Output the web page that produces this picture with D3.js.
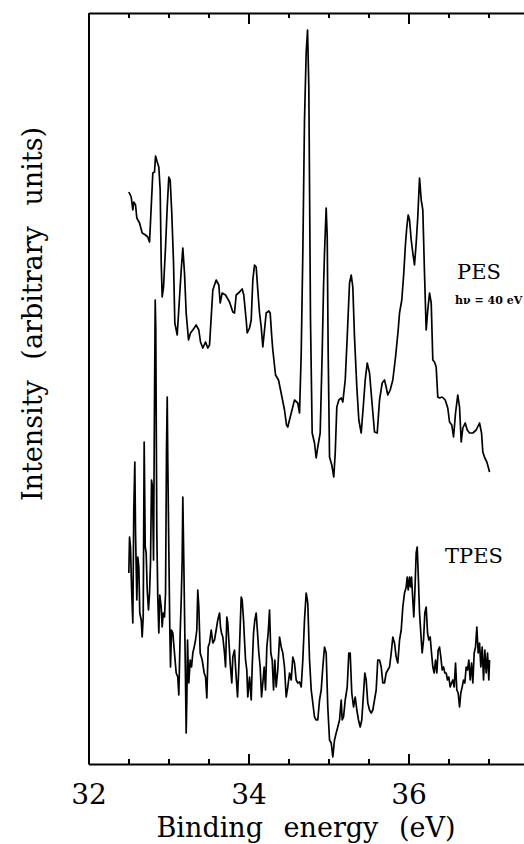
<!DOCTYPE html>
<html>
<head>
<meta charset="utf-8">
<script src="https://cdn.jsdelivr.net/npm/d3@7/dist/d3.min.js"></script>
<style>
  body { margin: 0; background: #fff; }
  svg { display: block; }
  .axis path, .axis line { stroke: #000; stroke-width: 2px; }
  .axis text { font-family: "DejaVu Serif", serif; fill: #000; }
</style>
</head>
<body>
<script>
// data: binding energy (eV) and intensity (arbitrary units)
var pesEnergy = [32.504,32.534,32.554,32.566,32.588,32.604,32.638,32.671,32.713,32.741,32.763,32.784,32.804,32.825,32.838,32.859,32.879,32.896,32.909,32.921,
  32.938,32.963,32.984,33.004,33.021,33.041,33.063,33.079,33.109,33.138,33.159,33.179,33.200,33.221,33.250,33.275,33.304,33.346,33.379,33.400,
  33.429,33.463,33.491,33.513,33.554,33.596,33.629,33.646,33.671,33.713,33.763,33.804,33.825,33.846,33.888,33.921,33.941,33.971,33.984,34.013,
  34.034,34.054,34.075,34.096,34.116,34.138,34.159,34.179,34.221,34.254,34.271,34.291,34.304,34.338,34.375,34.413,34.450,34.475,34.491,34.534,
  34.575,34.616,34.638,34.659,34.679,34.700,34.721,34.738,34.754,34.763,34.775,34.796,34.825,34.846,34.866,34.896,34.921,34.938,34.950,34.971,
  34.984,34.996,35.013,35.041,35.066,35.084,35.104,35.129,35.159,35.179,35.209,35.234,35.263,35.284,35.304,35.325,35.354,35.379,35.409,35.438,
  35.459,35.484,35.513,35.541,35.575,35.609,35.638,35.671,35.700,35.721,35.741,35.771,35.804,35.838,35.871,35.888,35.916,35.941,35.963,35.979,
  35.996,36.013,36.034,36.054,36.075,36.096,36.116,36.138,36.159,36.179,36.200,36.221,36.241,36.263,36.284,36.304,36.325,36.346,36.366,36.388,
  36.421,36.459,36.491,36.513,36.541,36.563,36.588,36.616,36.638,36.659,36.679,36.709,36.734,36.763,36.804,36.846,36.888,36.913,36.929,36.954,
  36.979,37.000,37.013];
var pesIntensity = [57.2,56.7,55.4,56.2,55.9,54.6,54.1,53.1,52.9,52.7,52.2,55.7,59.1,59.2,60.8,60.2,59.7,57.4,50.1,46.7,
  47.7,51.7,55.7,58.7,58.4,55.1,50.1,44.1,42.9,46.7,49.4,51.6,49.1,45.1,42.4,43.1,43.4,43.9,43.4,42.2,
  41.6,42.2,41.6,41.9,47.4,48.4,47.9,46.1,47.1,46.9,46.2,45.2,45.1,46.9,47.2,47.5,46.9,44.4,43.1,43.6,
  44.4,48.4,49.9,49.7,47.4,45.1,43.7,41.7,45.1,45.3,45.1,42.7,41.4,38.9,38.4,36.9,35.4,33.9,33.7,35.1,
  36.4,36.1,35.1,41.1,51.1,64.4,71.1,73.4,67.7,57.7,44.4,33.1,32.1,30.6,31.7,33.1,41.1,47.7,51.1,55.6,
  52.7,41.1,30.7,29.9,28.7,31.1,35.7,36.4,36.6,36.2,38.4,42.7,48.1,48.9,47.7,42.7,37.7,34.4,33.1,36.1,
  38.4,40.1,39.1,36.4,33.2,33.1,36.4,38.1,38.4,37.7,36.9,37.4,38.4,40.7,43.4,45.1,46.4,49.1,52.1,53.7,
  54.9,54.4,52.4,51.1,49.9,52.1,54.7,58.6,56.4,55.4,49.1,43.4,45.4,47.1,46.1,40.4,40.2,39.7,36.7,36.6,
  36.7,36.4,35.6,34.2,33.9,32.7,35.1,36.9,35.7,32.2,33.6,34.1,33.4,33.1,33.1,33.4,34.1,33.1,31.2,30.6,
  30.2,29.6,29.2];

var tpesEnergy = [32.504,32.513,32.525,32.538,32.554,32.566,32.579,32.588,32.604,32.616,32.629,32.641,32.659,32.671,32.684,32.696,32.709,32.721,32.734,32.750,
  32.763,32.775,32.788,32.800,32.813,32.825,32.834,32.841,32.854,32.866,32.879,32.891,32.909,32.921,32.934,32.950,32.963,32.975,32.984,32.991,
  33.004,33.016,33.025,33.038,33.054,33.075,33.096,33.116,33.129,33.146,33.159,33.171,33.179,33.191,33.204,33.213,33.221,33.229,33.238,33.246,
  33.254,33.271,33.288,33.304,33.321,33.338,33.354,33.366,33.379,33.396,33.421,33.446,33.463,33.479,33.496,33.513,33.534,33.554,33.575,33.596,
  33.616,33.638,33.650,33.663,33.679,33.700,33.713,33.729,33.741,33.754,33.771,33.791,33.804,33.825,33.846,33.863,33.879,33.896,33.909,33.921,
  33.938,33.950,33.963,33.979,33.991,34.013,34.034,34.046,34.063,34.079,34.096,34.113,34.129,34.146,34.163,34.179,34.196,34.213,34.229,34.246,
  34.263,34.279,34.296,34.313,34.329,34.346,34.366,34.388,34.409,34.429,34.450,34.471,34.491,34.513,34.534,34.554,34.575,34.596,34.616,34.638,
  34.659,34.679,34.700,34.721,34.741,34.763,34.784,34.804,34.825,34.846,34.866,34.888,34.909,34.929,34.950,34.971,34.991,35.013,35.034,35.054,
  35.075,35.096,35.116,35.138,35.159,35.171,35.188,35.209,35.234,35.254,35.271,35.291,35.313,35.334,35.354,35.375,35.396,35.416,35.438,35.454,
  35.471,35.491,35.513,35.534,35.554,35.575,35.596,35.616,35.638,35.659,35.679,35.700,35.721,35.741,35.763,35.784,35.804,35.825,35.846,35.866,
  35.888,35.909,35.929,35.950,35.971,35.984,35.996,36.013,36.025,36.038,36.054,36.066,36.079,36.096,36.109,36.121,36.138,36.154,36.171,36.188,
  36.204,36.221,36.238,36.254,36.271,36.288,36.304,36.321,36.338,36.354,36.371,36.388,36.404,36.421,36.438,36.454,36.471,36.488,36.504,36.521,
  36.538,36.554,36.571,36.588,36.604,36.621,36.638,36.654,36.671,36.688,36.704,36.721,36.738,36.754,36.771,36.788,36.804,36.821,36.838,36.854,
  36.871,36.888,36.904,36.921,36.938,36.954,36.971,36.988,37.004,37.013];
var tpesIntensity = [19.1,22.7,21.7,17.7,14.1,25.4,30.2,23.1,16.4,20.7,19.7,15.1,14.4,12.7,14.7,32.2,21.7,21.1,17.4,15.4,
  17.1,20.1,28.4,27.7,20.4,36.4,46.4,43.4,23.1,16.7,13.1,16.9,15.7,13.7,15.1,14.7,17.1,31.4,36.7,30.4,
  21.4,13.7,9.7,13.4,13.1,11.1,9.1,8.7,6.9,13.1,16.4,20.4,26.7,20.4,13.1,8.1,3.1,6.4,12.4,9.7,
  8.1,10.4,9.7,11.1,11.7,12.4,13.4,17.4,15.7,11.1,10.4,9.1,8.7,6.6,11.7,12.1,13.4,12.1,12.4,13.4,
  14.4,15.1,13.7,13.1,12.7,11.1,9.7,14.7,14.1,12.4,10.1,8.1,10.7,11.4,8.7,6.7,9.7,13.7,16.7,16.4,
  14.4,12.4,10.4,9.4,6.7,8.7,6.4,9.7,13.1,14.4,15.1,13.1,11.1,9.7,6.7,8.1,9.7,7.4,11.7,13.1,
  15.4,11.1,10.4,7.4,10.4,7.7,9.4,12.7,11.7,11.1,9.7,6.7,7.7,9.1,8.4,10.7,10.1,8.4,8.1,8.2,
  7.7,10.4,14.4,17.1,16.1,10.4,7.4,6.1,4.7,4.4,4.4,6.4,7.4,9.7,11.7,11.1,5.7,2.4,2.1,0.7,
  2.4,3.1,3.7,4.4,6.4,4.4,4.7,6.4,7.7,11.1,11.1,7.1,5.7,6.7,5.4,4.4,3.7,4.4,7.1,9.1,
  8.4,6.1,5.4,5.1,5.4,6.4,7.4,10.4,10.4,9.7,8.1,8.1,9.1,9.4,9.7,11.1,12.7,12.1,10.7,10.1,
  12.4,13.4,15.7,17.1,17.7,18.7,17.4,18.7,17.7,18.7,16.4,14.7,17.1,21.1,21.7,19.1,15.1,13.1,11.1,12.4,
  15.1,15.7,13.1,12.4,12.7,11.1,9.7,9.1,10.4,9.1,11.4,11.7,10.7,9.4,9.7,9.1,9.1,8.4,8.7,7.7,
  8.1,8.4,7.7,10.1,7.4,7.1,5.7,7.1,7.7,8.4,8.1,9.7,9.4,10.4,8.4,10.1,8.1,11.1,11.7,13.7,
  11.1,12.1,9.7,11.7,8.4,11.4,9.1,11.1,8.4,10.4];

var majorTicks = [32, 34, 36];
var tickLabels = ["32", "34", "36"];
var minorTicks = [32.5, 33, 33.5, 34.5, 35, 35.5, 36.5, 37];
var seriesLabels = ["PES", "TPES"];
var photonLabel = "h\u03bd = 40 eV";

// frame
var width = 524, height = 844;
var plot = {left: 88.5, right: 528.5, top: 13, bottom: 764};

var svg = d3.select("body").append("svg")
    .attr("width", width)
    .attr("height", height);

var x = d3.scaleLinear()
    .domain([32, 37.5])
    .range([plot.left, plot.right]);

var y = d3.scaleLinear()
    .domain([0, 75.1])
    .range([plot.bottom, plot.top]);

// bottom axis, ticks pointing in
svg.append("g")
    .attr("class", "axis")
    .attr("transform", "translate(0," + plot.bottom + ")")
    .call(d3.axisBottom(x)
      .tickValues(majorTicks)
      .tickSizeInner(-10)
      .tickSizeOuter(0)
      .tickPadding(20)
      .tickFormat(function(d, i) { return tickLabels[i]; }))
    .selectAll("text")
      .style("font-size", "28px");

svg.append("g")
    .attr("class", "axis minor")
    .attr("transform", "translate(0," + plot.bottom + ")")
    .call(d3.axisBottom(x).tickValues(minorTicks).tickSizeInner(-5).tickSizeOuter(0).tickFormat(""))
    .select(".domain").remove();

// top axis
svg.append("g")
    .attr("class", "axis")
    .attr("transform", "translate(0," + plot.top + ")")
    .call(d3.axisTop(x).tickValues(majorTicks).tickSizeInner(-11).tickSizeOuter(0).tickFormat(""));

svg.append("g")
    .attr("class", "axis minor")
    .attr("transform", "translate(0," + plot.top + ")")
    .call(d3.axisTop(x).tickValues(minorTicks).tickSizeInner(-5).tickSizeOuter(0).tickFormat(""))
    .select(".domain").remove();

// left axis, no ticks
svg.append("g")
    .attr("class", "axis")
    .attr("transform", "translate(" + plot.left + ",0)")
    .call(d3.axisLeft(y).tickValues([]).tickSizeOuter(0));

// spectra
var line = d3.line()
    .x(function(d) { return x(d[0]); })
    .y(function(d) { return y(d[1]); });

var pes = d3.zip(pesEnergy, pesIntensity);
var tpes = d3.zip(tpesEnergy, tpesIntensity);

svg.selectAll(".spectrum")
    .data([pes, tpes])
  .enter().append("path")
    .attr("class", "spectrum")
    .attr("d", line)
    .style("fill", "none")
    .style("stroke", "#000")
    .style("stroke-width", 1.7)
    .style("stroke-linejoin", "round");

// labels
svg.append("text")
    .attr("x", 479)
    .attr("y", 279)
    .attr("text-anchor", "middle")
    .style("font-family", "DejaVu Serif, serif")
    .style("font-size", "21px")
    .text(seriesLabels[0]);

svg.append("text")
    .attr("x", 455)
    .attr("y", 304)
    .attr("text-anchor", "start")
    .style("font-family", "DejaVu Serif, serif")
    .style("font-weight", "bold")
    .style("font-size", "11px")
    .text(photonLabel);

svg.append("text")
    .attr("x", 474)
    .attr("y", 563)
    .attr("text-anchor", "middle")
    .style("font-family", "DejaVu Serif, serif")
    .style("font-size", "21px")
    .text(seriesLabels[1]);

// axis titles
svg.append("text")
    .attr("x", 306)
    .attr("y", 837)
    .attr("text-anchor", "middle")
    .style("font-family", "DejaVu Serif, serif")
    .style("font-size", "27px")
    .style("word-spacing", "12px")
    .text("Binding energy (eV)");

svg.append("text")
    .attr("transform", "translate(42,314) rotate(-90)")
    .attr("text-anchor", "middle")
    .style("font-family", "DejaVu Serif, serif")
    .style("font-size", "27px")
    .style("word-spacing", "12px")
    .text("Intensity (arbitrary units)");
</script>
</body>
</html>
